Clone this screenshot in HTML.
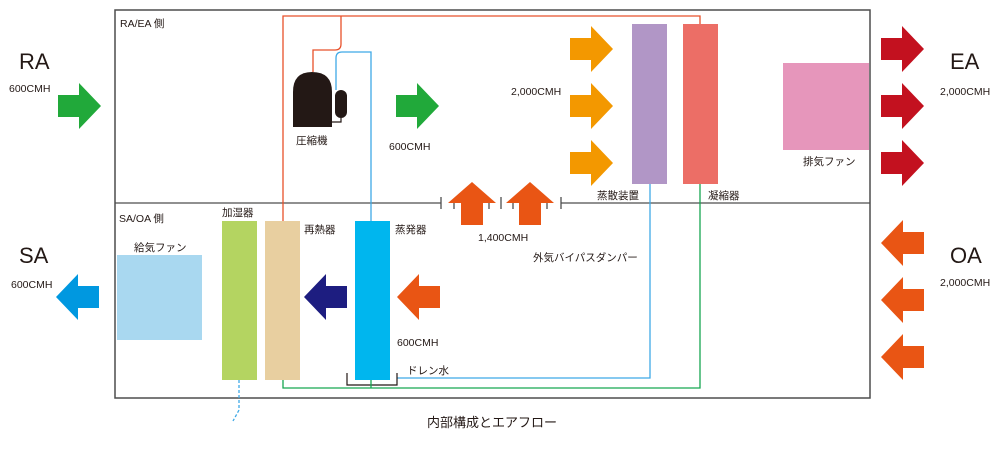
<!DOCTYPE html>
<html><head><meta charset="utf-8"><style>
body{margin:0;background:#fff;}
svg text{font-family:"Liberation Sans","Noto Sans CJK JP",sans-serif;fill:#231815;}
</style></head><body>
<svg width="1000" height="445" viewBox="0 0 1000 445" xmlns="http://www.w3.org/2000/svg">
<defs>
<path id="ar" d="M0,-11 H21 V-23 L43,0 L21,23 V11 H0 Z"/>
<path id="al" d="M43,-11 H22 V-23 L0,0 L22,23 V11 H43 Z"/>
<path id="au" d="M-11,43 V21 H-24 L0,0 L24,21 H11 V43 Z"/>
</defs>
<!-- main box -->
<rect x="115" y="10" width="755" height="388" fill="none" stroke="#4d4d4d" stroke-width="1.5"/>
<!-- divider -->
<line x1="115" y1="203" x2="441" y2="203" stroke="#4d4d4d" stroke-width="1.3"/>
<line x1="561" y1="203" x2="870" y2="203" stroke="#4d4d4d" stroke-width="1.3"/>
<g stroke="#4d4d4d" stroke-width="1.3">
<line x1="441" y1="197" x2="441" y2="209"/><line x1="501" y1="197" x2="501" y2="209"/><line x1="561" y1="197" x2="561" y2="209"/>
<line x1="454" y1="201" x2="454" y2="209"/><line x1="489" y1="201" x2="489" y2="209"/><line x1="513" y1="201" x2="513" y2="209"/><line x1="547" y1="201" x2="547" y2="209"/>
</g>
<!-- pipes -->
<path d="M283,221 V16 H700 V24" fill="none" stroke="#e8502a" stroke-width="1.3"/>
<path d="M341,16 V44 Q341,50 335,50 H313 V72" fill="none" stroke="#e8502a" stroke-width="1.3"/>
<path d="M336,90 V58 Q336,52 342,52 H371 V380" fill="none" stroke="#3fa9e6" stroke-width="1.3"/>
<path d="M397,378 H650 V184" fill="none" stroke="#3fa9e6" stroke-width="1.3"/>
<path d="M283,380 V388 H700 V184" fill="none" stroke="#16a650" stroke-width="1.3"/>
<path d="M239,380 V410 L233,421" fill="none" stroke="#3fa9e6" stroke-width="1.3" stroke-dasharray="3,2"/>
<!-- compressor -->
<path d="M293,127 V92 Q293,72 312,72 Q332,72 332,92 V127 Z" fill="#231815"/>
<rect x="335" y="90" width="12" height="28" rx="6" fill="#231815"/>
<path d="M332,122 H341 V118" fill="none" stroke="#231815" stroke-width="1.2"/>
<!-- blocks -->
<rect x="632" y="24" width="35" height="160" fill="#b196c6"/>
<rect x="683" y="24" width="35" height="160" fill="#ec6e66"/>
<rect x="783" y="63" width="86" height="87" fill="#e696bb"/>
<rect x="117" y="255" width="85" height="85" fill="#a9d8f0"/>
<rect x="222" y="221" width="35" height="159" fill="#b4d461"/>
<rect x="265" y="221" width="35" height="159" fill="#e8cfa0"/>
<rect x="355" y="221" width="35" height="159" fill="#00b6ee"/>
<path d="M347,373 V385 H397 V373" fill="none" stroke="#231815" stroke-width="1.2"/>
<line x1="371" y1="380" x2="371" y2="388" stroke="#16a650" stroke-width="1.3"/>
<!-- arrows -->
<use href="#ar" x="58" y="106" fill="#21a93a"/>
<use href="#ar" x="396" y="106" fill="#21a93a"/>
<use href="#ar" x="570" y="49" fill="#f39800"/>
<use href="#ar" x="570" y="106" fill="#f39800"/>
<use href="#ar" x="570" y="163" fill="#f39800"/>
<use href="#ar" x="881" y="49" fill="#c3111f"/>
<use href="#ar" x="881" y="106" fill="#c3111f"/>
<use href="#ar" x="881" y="163" fill="#c3111f"/>
<use href="#al" x="881" y="243" fill="#e95514"/>
<use href="#al" x="881" y="300" fill="#e95514"/>
<use href="#al" x="881" y="357" fill="#e95514"/>
<use href="#al" x="397" y="297" fill="#e95514"/>
<use href="#al" x="304" y="297" fill="#1d1d80"/>
<use href="#al" x="56" y="297" fill="#0098e0"/>
<use href="#au" x="472" y="182" fill="#e95514"/>
<use href="#au" x="530" y="182" fill="#e95514"/>
<!-- text -->
<g font-size="22">
<text x="19" y="69">RA</text>
<text x="19" y="263">SA</text>
<text x="950" y="69">EA</text>
<text x="950" y="263">OA</text>
</g>
<g font-size="10.5">
<text x="9" y="92">600CMH</text>
<text x="11" y="288">600CMH</text>
<text x="940" y="95">2,000CMH</text>
<text x="940" y="286">2,000CMH</text>
<text x="511" y="95">2,000CMH</text>
<text x="389" y="150">600CMH</text>
<text x="397" y="346">600CMH</text>
<text x="478" y="241">1,400CMH</text>
<text x="120" y="27">RA/EA 側</text>
<text x="119" y="222">SA/OA 側</text>
<text x="296" y="144">圧縮機</text>
<text x="222" y="216">加湿器</text>
<text x="304" y="233">再熱器</text>
<text x="395" y="233">蒸発器</text>
<text x="134" y="251">給気ファン</text>
<text x="597" y="199">蒸散装置</text>
<text x="708" y="199">凝縮器</text>
<text x="803" y="165">排気ファン</text>
<text x="533" y="261">外気バイパスダンパー</text>
<text x="407" y="374">ドレン水</text>
</g>
<text x="427" y="427" font-size="13">内部構成とエアフロー</text>
</svg>
</body></html>
